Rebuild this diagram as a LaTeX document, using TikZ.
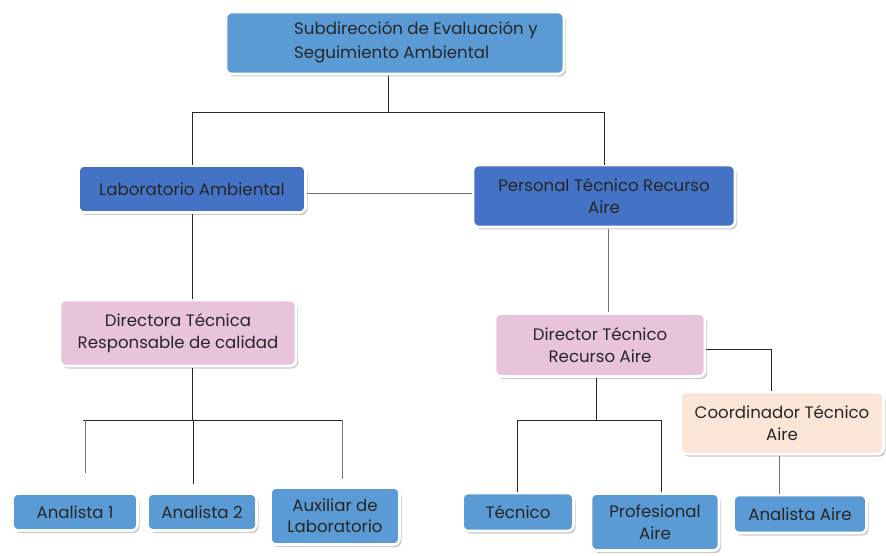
\documentclass[tikz,border=0pt]{standalone}
\usepackage{fontspec}
\setmainfont{Poppins}
\usetikzlibrary{shadows}
\definecolor{lblue}{HTML}{5B9BD5}
\definecolor{dblue}{HTML}{4472C4}
\definecolor{pinkc}{HTML}{E8C4DC}
\definecolor{peach}{HTML}{FBE5D6}
\definecolor{txt}{HTML}{262626}
\tikzset{
  box/.style={rectangle, rounded corners=6pt, draw=white, line width=2.6pt,
    drop shadow={shadow xshift=2pt, shadow yshift=-2.5pt, fill=black!35, opacity=0.6},
    text=txt, align=center, inner sep=2pt, font=\fontsize{16.6}{21.5}\selectfont},
  conn/.style={draw=black!85, line width=0.9pt},
  gconn/.style={draw=black!55, line width=0.9pt}
}
\begin{document}
\begin{tikzpicture}[x=1pt,y=-1pt]
\useasboundingbox (0,0) rectangle (886,556);
% top
\node[box, fill=lblue, minimum width=338pt, minimum height=62pt] (top) at (395,43) {};
\node[text=txt, align=left, anchor=west, inner sep=0pt, font=\fontsize{16.6}{24.5}\selectfont] (toptxt) at (294,42) {Subdirección de Evaluación y\\Seguimiento Ambiental};
% level 2
\node[box, fill=dblue, minimum width=227pt, minimum height=47pt] (lab) at (192,189) {Laboratorio Ambiental};
\node[box, fill=dblue, minimum width=262pt, minimum height=62pt] (pers) at (604,196) {Personal Técnico Recurso\\Aire};
% level 3
\node[box, fill=pinkc, minimum width=236pt, minimum height=66pt] (dirA) at (178,333) {Directora Técnica\\Responsable de calidad};
\node[box, fill=pinkc, minimum width=210pt, minimum height=63pt] (dirB) at (600,345) {Director Técnico\\Recurso Aire};
\node[box, fill=peach, minimum width=203pt, minimum height=62pt] (coord) at (782,423) {Coordinador Técnico\\Aire};
% level 4
\node[box, fill=lblue, minimum width=125pt, minimum height=37pt] (an1) at (75,512) {Analista 1};
\node[box, fill=lblue, minimum width=109pt, minimum height=37pt] (an2) at (202,512) {Analista 2};
\node[box, fill=lblue, minimum width=129pt, minimum height=57pt] (aux) at (335,516) {Auxiliar de\\Laboratorio};
\node[box, fill=lblue, minimum width=111pt, minimum height=38pt] (tec) at (518,512) {Técnico};
\node[box, fill=lblue, minimum width=128pt, minimum height=57pt] (prof) at (655,522) {Profesional\\Aire};
\node[box, fill=lblue, minimum width=133pt, minimum height=38pt] (anA) at (800,514) {Analista Aire};
% coordinates
\coordinate (j1) at (388,112);
\coordinate (j2) at (192,420);
\coordinate (j3) at (596,420);
% connectors
\draw[conn] (388,76) -- (j1);
\draw[conn] (192,112) -- (604,112);
\draw[conn] (192,112) -- (192,165);
\draw[conn] (604,112) -- (604,165);
\draw[gconn] (lab.east |- 0,193) -- (pers.west |- 0,193);
\draw[conn] (192,214) -- (192,299);
\draw[gconn] (608,229) -- (608,312);
\draw[conn] (192,368) -- (j2);
\draw[conn] (83,420) -- (342,420);
\draw[gconn] (85,420) -- (85,473);
\draw[conn] (193,420) -- (193,484);
\draw[gconn] (342,420) -- (342,479);
\draw[conn] (596,378) -- (j3);
\draw[conn] (517,420) -- (661,420);
\draw[conn] (517,420) -- (517,492);
\draw[conn] (661,420) -- (661,492);
\draw[conn] (dirB.east |- 0,349) -- (771,349) -- (771,391);
\draw[gconn] (779,456) -- (779,494);
\end{tikzpicture}
\end{document}
